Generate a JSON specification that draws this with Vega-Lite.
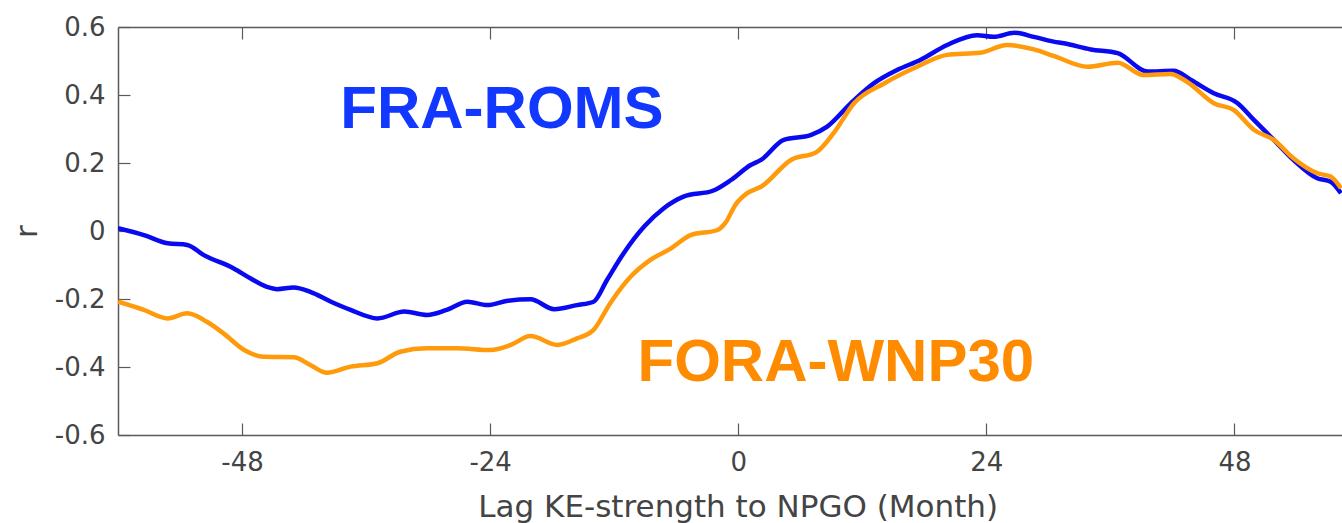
{
  "$schema": "https://vega.github.io/schema/vega-lite/v6.json",
  "width": 1224,
  "height": 408,
  "autosize": {"type": "none"},
  "padding": {"left": 118, "top": 27, "right": 0, "bottom": 88},
  "background": "white",
  "config": {
    "view": {"stroke": null},
    "font": "DejaVu Sans",
    "axis": {
      "domainColor": "#5a5a5a",
      "domainWidth": 1.5,
      "tickColor": "#5a5a5a",
      "tickWidth": 1.2,
      "tickSize": -12,
      "grid": false,
      "labelFont": "DejaVu Sans",
      "labelFontSize": 26,
      "labelColor": "#444444",
      "titleFont": "DejaVu Sans",
      "titleFontSize": 31,
      "titleFontWeight": "normal",
      "titleColor": "#444444"
    }
  },
  "datasets": {
    "corr": [
      {"model": "FRA-ROMS", "lag": -60, "r": 0.008},
      {"model": "FRA-ROMS", "lag": -57.5, "r": -0.012},
      {"model": "FRA-ROMS", "lag": -55.2, "r": -0.036},
      {"model": "FRA-ROMS", "lag": -53.3, "r": -0.041},
      {"model": "FRA-ROMS", "lag": -51.7, "r": -0.071},
      {"model": "FRA-ROMS", "lag": -48.8, "r": -0.110},
      {"model": "FRA-ROMS", "lag": -47.2, "r": -0.139},
      {"model": "FRA-ROMS", "lag": -45.6, "r": -0.164},
      {"model": "FRA-ROMS", "lag": -44.6, "r": -0.171},
      {"model": "FRA-ROMS", "lag": -43.0, "r": -0.166},
      {"model": "FRA-ROMS", "lag": -41.4, "r": -0.179},
      {"model": "FRA-ROMS", "lag": -39.4, "r": -0.208},
      {"model": "FRA-ROMS", "lag": -37.5, "r": -0.232},
      {"model": "FRA-ROMS", "lag": -34.9, "r": -0.257},
      {"model": "FRA-ROMS", "lag": -32.3, "r": -0.237},
      {"model": "FRA-ROMS", "lag": -30.1, "r": -0.247},
      {"model": "FRA-ROMS", "lag": -28.2, "r": -0.232},
      {"model": "FRA-ROMS", "lag": -26.2, "r": -0.208},
      {"model": "FRA-ROMS", "lag": -24.3, "r": -0.218},
      {"model": "FRA-ROMS", "lag": -22.3, "r": -0.205},
      {"model": "FRA-ROMS", "lag": -20.1, "r": -0.201},
      {"model": "FRA-ROMS", "lag": -17.8, "r": -0.230},
      {"model": "FRA-ROMS", "lag": -15.6, "r": -0.218},
      {"model": "FRA-ROMS", "lag": -14.0, "r": -0.208},
      {"model": "FRA-ROMS", "lag": -12.7, "r": -0.144},
      {"model": "FRA-ROMS", "lag": -11.1, "r": -0.066},
      {"model": "FRA-ROMS", "lag": -9.1, "r": 0.013},
      {"model": "FRA-ROMS", "lag": -7.2, "r": 0.067},
      {"model": "FRA-ROMS", "lag": -5.3, "r": 0.101},
      {"model": "FRA-ROMS", "lag": -2.4, "r": 0.119},
      {"model": "FRA-ROMS", "lag": -0.7, "r": 0.150},
      {"model": "FRA-ROMS", "lag": 1.2, "r": 0.194},
      {"model": "FRA-ROMS", "lag": 2.2, "r": 0.209},
      {"model": "FRA-ROMS", "lag": 4.4, "r": 0.268},
      {"model": "FRA-ROMS", "lag": 7.0, "r": 0.282},
      {"model": "FRA-ROMS", "lag": 8.6, "r": 0.307},
      {"model": "FRA-ROMS", "lag": 10.9, "r": 0.376},
      {"model": "FRA-ROMS", "lag": 13.1, "r": 0.434},
      {"model": "FRA-ROMS", "lag": 15.4, "r": 0.474},
      {"model": "FRA-ROMS", "lag": 17.6, "r": 0.503},
      {"model": "FRA-ROMS", "lag": 20.2, "r": 0.547},
      {"model": "FRA-ROMS", "lag": 23.1, "r": 0.576},
      {"model": "FRA-ROMS", "lag": 24.7, "r": 0.571},
      {"model": "FRA-ROMS", "lag": 26.7, "r": 0.583},
      {"model": "FRA-ROMS", "lag": 28.6, "r": 0.571},
      {"model": "FRA-ROMS", "lag": 30.5, "r": 0.557},
      {"model": "FRA-ROMS", "lag": 31.5, "r": 0.552},
      {"model": "FRA-ROMS", "lag": 34.1, "r": 0.534},
      {"model": "FRA-ROMS", "lag": 36.7, "r": 0.523},
      {"model": "FRA-ROMS", "lag": 39.6, "r": 0.469},
      {"model": "FRA-ROMS", "lag": 42.1, "r": 0.471},
      {"model": "FRA-ROMS", "lag": 43.8, "r": 0.444},
      {"model": "FRA-ROMS", "lag": 46.0, "r": 0.405},
      {"model": "FRA-ROMS", "lag": 48.3, "r": 0.376},
      {"model": "FRA-ROMS", "lag": 49.9, "r": 0.326},
      {"model": "FRA-ROMS", "lag": 51.8, "r": 0.268},
      {"model": "FRA-ROMS", "lag": 53.7, "r": 0.209},
      {"model": "FRA-ROMS", "lag": 56.0, "r": 0.155},
      {"model": "FRA-ROMS", "lag": 57.3, "r": 0.145},
      {"model": "FRA-ROMS", "lag": 58.3, "r": 0.111},
      {"model": "FORA-WNP30", "lag": -60, "r": -0.208},
      {"model": "FORA-WNP30", "lag": -57.5, "r": -0.232},
      {"model": "FORA-WNP30", "lag": -55.2, "r": -0.257},
      {"model": "FORA-WNP30", "lag": -53.3, "r": -0.242},
      {"model": "FORA-WNP30", "lag": -51.4, "r": -0.267},
      {"model": "FORA-WNP30", "lag": -49.8, "r": -0.301},
      {"model": "FORA-WNP30", "lag": -47.8, "r": -0.350},
      {"model": "FORA-WNP30", "lag": -45.9, "r": -0.370},
      {"model": "FORA-WNP30", "lag": -43.0, "r": -0.371},
      {"model": "FORA-WNP30", "lag": -41.4, "r": -0.394},
      {"model": "FORA-WNP30", "lag": -39.8, "r": -0.417},
      {"model": "FORA-WNP30", "lag": -37.5, "r": -0.399},
      {"model": "FORA-WNP30", "lag": -34.9, "r": -0.389},
      {"model": "FORA-WNP30", "lag": -32.7, "r": -0.355},
      {"model": "FORA-WNP30", "lag": -30.1, "r": -0.345},
      {"model": "FORA-WNP30", "lag": -27.2, "r": -0.345},
      {"model": "FORA-WNP30", "lag": -24.0, "r": -0.350},
      {"model": "FORA-WNP30", "lag": -22.0, "r": -0.335},
      {"model": "FORA-WNP30", "lag": -20.1, "r": -0.309},
      {"model": "FORA-WNP30", "lag": -17.5, "r": -0.335},
      {"model": "FORA-WNP30", "lag": -15.6, "r": -0.316},
      {"model": "FORA-WNP30", "lag": -14.0, "r": -0.291},
      {"model": "FORA-WNP30", "lag": -12.4, "r": -0.213},
      {"model": "FORA-WNP30", "lag": -10.4, "r": -0.134},
      {"model": "FORA-WNP30", "lag": -8.5, "r": -0.085},
      {"model": "FORA-WNP30", "lag": -6.5, "r": -0.051},
      {"model": "FORA-WNP30", "lag": -4.6, "r": -0.012},
      {"model": "FORA-WNP30", "lag": -2.0, "r": 0.003},
      {"model": "FORA-WNP30", "lag": -1.2, "r": 0.026},
      {"model": "FORA-WNP30", "lag": -0.3, "r": 0.076},
      {"model": "FORA-WNP30", "lag": 0.9, "r": 0.112},
      {"model": "FORA-WNP30", "lag": 2.2, "r": 0.130},
      {"model": "FORA-WNP30", "lag": 5.1, "r": 0.209},
      {"model": "FORA-WNP30", "lag": 7.6, "r": 0.233},
      {"model": "FORA-WNP30", "lag": 9.2, "r": 0.287},
      {"model": "FORA-WNP30", "lag": 11.2, "r": 0.376},
      {"model": "FORA-WNP30", "lag": 14.1, "r": 0.434},
      {"model": "FORA-WNP30", "lag": 17.3, "r": 0.483},
      {"model": "FORA-WNP30", "lag": 20.2, "r": 0.518},
      {"model": "FORA-WNP30", "lag": 23.4, "r": 0.524},
      {"model": "FORA-WNP30", "lag": 26.0, "r": 0.547},
      {"model": "FORA-WNP30", "lag": 28.6, "r": 0.534},
      {"model": "FORA-WNP30", "lag": 30.5, "r": 0.515},
      {"model": "FORA-WNP30", "lag": 33.8, "r": 0.483},
      {"model": "FORA-WNP30", "lag": 36.7, "r": 0.495},
      {"model": "FORA-WNP30", "lag": 39.2, "r": 0.459},
      {"model": "FORA-WNP30", "lag": 41.8, "r": 0.462},
      {"model": "FORA-WNP30", "lag": 43.4, "r": 0.439},
      {"model": "FORA-WNP30", "lag": 46.0, "r": 0.376},
      {"model": "FORA-WNP30", "lag": 47.9, "r": 0.356},
      {"model": "FORA-WNP30", "lag": 49.9, "r": 0.297},
      {"model": "FORA-WNP30", "lag": 51.8, "r": 0.268},
      {"model": "FORA-WNP30", "lag": 53.7, "r": 0.214},
      {"model": "FORA-WNP30", "lag": 56.0, "r": 0.170},
      {"model": "FORA-WNP30", "lag": 57.3, "r": 0.160},
      {"model": "FORA-WNP30", "lag": 58.3, "r": 0.126}
    ],
    "labels": [
      {"label": "FRA-ROMS", "lag": -38.5, "r": 0.302},
      {"label": "FORA-WNP30", "lag": -9.75, "r": -0.442}
    ]
  },
  "layer": [
    {
      "data": {"name": "corr"},
      "transform": [{"filter": "datum.model === 'FRA-ROMS'"}],
      "mark": {"type": "line", "color": "#0a0af0", "strokeWidth": 4.5, "clip": true, "interpolate": "monotone"},
      "encoding": {
        "x": {
          "field": "lag",
          "type": "quantitative",
          "scale": {"domain": [-60, 58.4], "nice": false, "zero": false},
          "axis": {
            "orient": "bottom",
            "values": [-48, -24, 0, 24, 48],
            "labelExpr": "(datum.value < 0 ? '-' : '') + format(abs(datum.value), 'd')",
            "labelPadding": 26,
            "title": "Lag KE-strength to NPGO (Month)",
            "titleX": 619.7,
            "titleY": 81,
            "titleAnchor": "middle",
            "titleAlign": "center",
            "titleBaseline": "alphabetic"
          }
        },
        "y": {
          "field": "r",
          "type": "quantitative",
          "scale": {"domain": [-0.6, 0.6], "nice": false, "zero": false},
          "axis": {
            "orient": "left",
            "values": [-0.6, -0.4, -0.2, 0, 0.2, 0.4, 0.6],
            "labelExpr": "datum.value == 0 ? '0' : (datum.value < 0 ? '-' : '') + format(abs(datum.value), '.1f')",
            "labelPadding": 25,
            "title": "r",
            "titleX": -82,
            "titleY": 204,
            "titleAngle": 270,
            "titleAlign": "center",
            "titleBaseline": "alphabetic"
          }
        }
      }
    },
    {
      "data": {"name": "corr"},
      "transform": [{"filter": "datum.model === 'FORA-WNP30'"}],
      "mark": {"type": "line", "color": "#ff9a0a", "strokeWidth": 4.5, "clip": true, "interpolate": "monotone"},
      "encoding": {
        "x": {
          "field": "lag",
          "type": "quantitative",
          "axis": {
            "orient": "top",
            "values": [-48, -24, 0, 24, 48],
            "labels": false,
            "title": null
          }
        },
        "y": {"field": "r", "type": "quantitative"}
      }
    },
    {
      "data": {"name": "labels"},
      "mark": {
        "type": "text",
        "font": "Liberation Sans",
        "fontSize": 60,
        "fontWeight": "bold",
        "align": "left",
        "baseline": "alphabetic"
      },
      "encoding": {
        "x": {"field": "lag", "type": "quantitative", "axis": null},
        "y": {"field": "r", "type": "quantitative"},
        "text": {"field": "label"},
        "color": {
          "field": "label",
          "type": "nominal",
          "scale": {"domain": ["FRA-ROMS", "FORA-WNP30"], "range": ["#1238ff", "#ff8c00"]},
          "legend": null
        }
      }
    }
  ]
}
